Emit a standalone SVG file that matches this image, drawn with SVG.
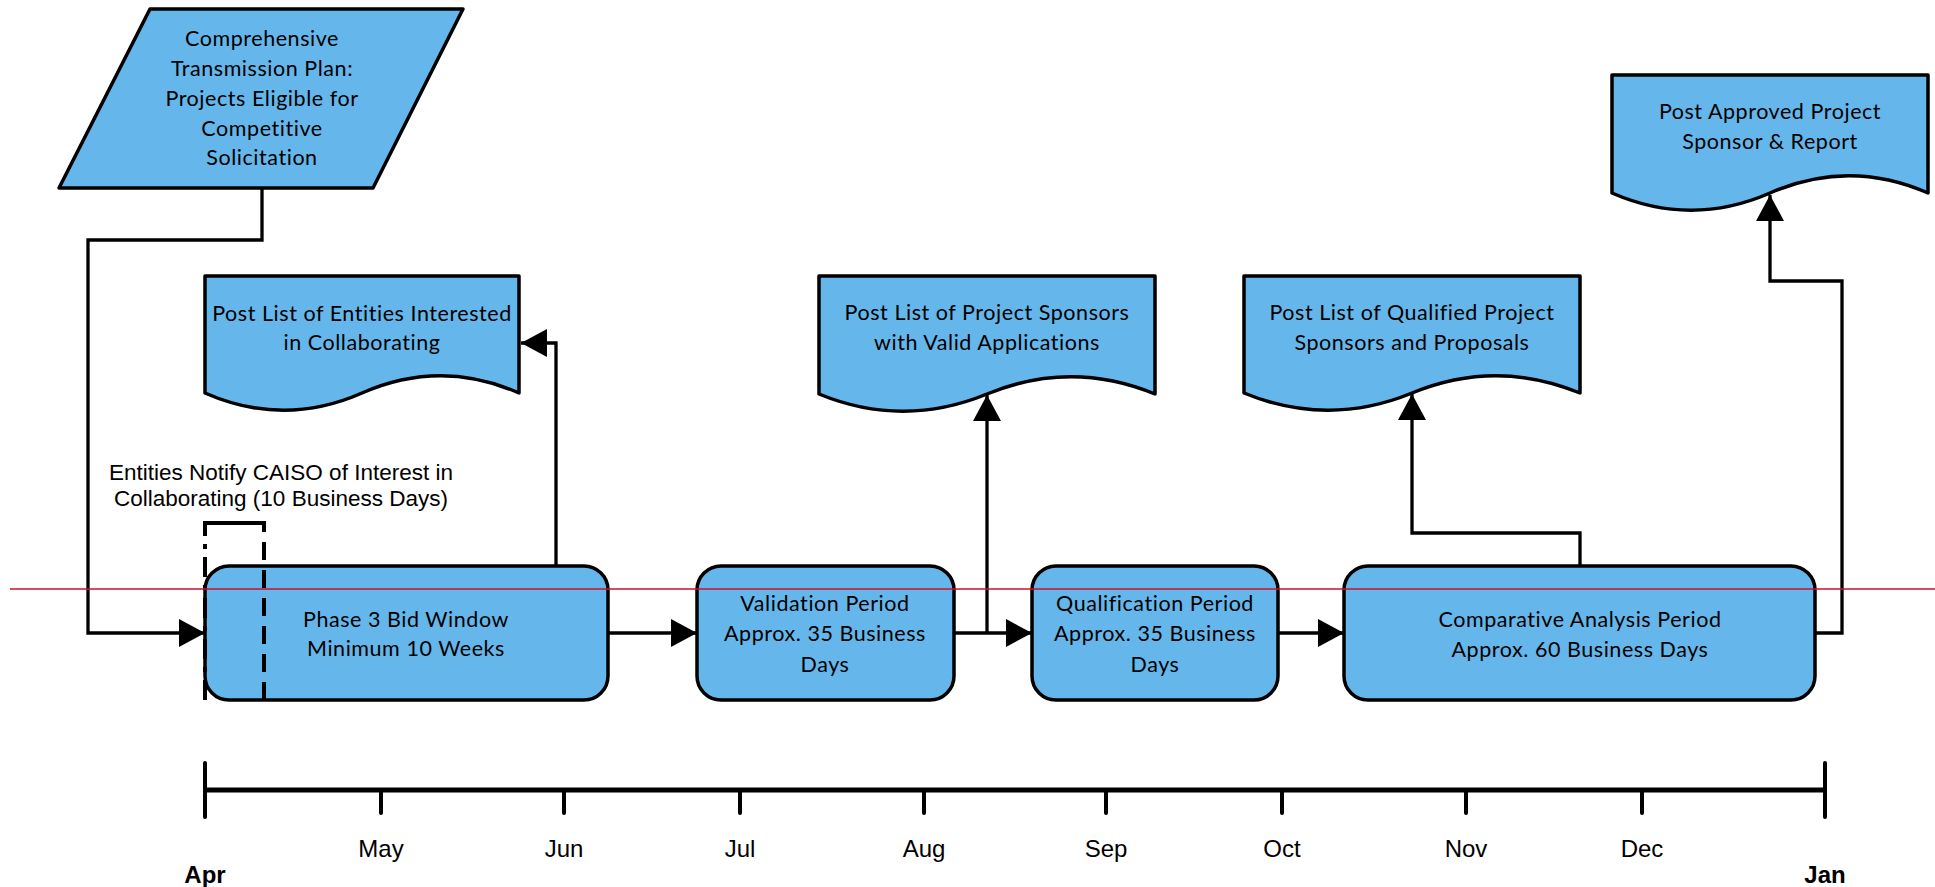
<svg xmlns="http://www.w3.org/2000/svg" width="1935" height="887" viewBox="0 0 1935 887">
<style>
.shape{fill:#65B7EB;stroke:#000;stroke-width:3.5;stroke-linejoin:round}
.t{font-family:Lato,"Open Sans",sans-serif;font-size:21.5px;fill:#000;text-anchor:middle;dominant-baseline:central;letter-spacing:0.55px}
.a{font-family:"Liberation Sans",Arial,sans-serif;font-size:22.5px;fill:#000;text-anchor:middle;dominant-baseline:central}
.m{font-family:"Liberation Sans",Arial,sans-serif;font-size:24px;fill:#000;text-anchor:middle;dominant-baseline:central}
.mb{font-family:"Liberation Sans",Arial,sans-serif;font-size:24px;font-weight:bold;fill:#000;text-anchor:middle;dominant-baseline:central}
.c{fill:none;stroke:#000;stroke-width:3.3}
.tk{stroke:#000;stroke-width:4;stroke-linecap:round}
</style>
<defs>
<marker id="arr" markerUnits="userSpaceOnUse" markerWidth="27" markerHeight="28" refX="26" refY="14" orient="auto">
<path d="M0,0 L26,14 L0,28 Z" fill="#000"/>
</marker>
</defs>

<g id="connectors">
<path class="c" d="M262,188 V240 H88 V633 H205" marker-end="url(#arr)"/>
<path class="c" d="M608,633 H697" marker-end="url(#arr)"/>
<path class="c" d="M954,633 H1032" marker-end="url(#arr)"/>
<path class="c" d="M987,633 V395" marker-end="url(#arr)"/>
<path class="c" d="M1278,633 H1344" marker-end="url(#arr)"/>
<path class="c" d="M556,566 V343 H521" marker-end="url(#arr)"/>
<path class="c" d="M1580,567 V533 H1412 V394" marker-end="url(#arr)"/>
<path class="c" d="M1815,633 H1842 V281 H1770 V195" marker-end="url(#arr)"/>
</g>

<g id="plan">
<polygon class="shape" points="150,9 463,9 373,188 59,188"/>
<text class="t" x="262" y="38">Comprehensive</text>
<text class="t" x="262" y="68">Transmission Plan:</text>
<text class="t" x="262" y="98">Projects Eligible for</text>
<text class="t" x="262" y="128">Competitive</text>
<text class="t" x="262" y="157">Solicitation</text>
</g>

<g id="doc-entities">
<path class="shape" d="M205,276 H519 V393 C466.7,370 414.3,370 362,393 C309.7,416 257.3,416 205,393 Z"/>
<text class="t" x="362" y="313">Post List of Entities Interested</text>
<text class="t" x="362" y="342">in Collaborating</text>
</g>

<g id="doc-sponsors">
<path class="shape" d="M819,276 H1155 V394 C1099,371 1043,371 987,394 C931,417 875,417 819,394 Z"/>
<text class="t" x="987" y="312">Post List of Project Sponsors</text>
<text class="t" x="987" y="342">with Valid Applications</text>
</g>

<g id="doc-qualified">
<path class="shape" d="M1244,276 H1580 V393 C1524,370 1468,370 1412,393 C1356,416 1300,416 1244,393 Z"/>
<text class="t" x="1412" y="312">Post List of Qualified Project</text>
<text class="t" x="1412" y="342">Sponsors and Proposals</text>
</g>

<g id="doc-approved">
<path class="shape" d="M1612,75 H1928 V193 C1875.3,170 1822.7,170 1770,193 C1717.3,216 1664.7,216 1612,193 Z"/>
<text class="t" x="1770" y="111">Post Approved Project</text>
<text class="t" x="1770" y="141">Sponsor &amp; Report</text>
</g>

<g id="notify-label">
<text class="a" x="281" y="472">Entities Notify CAISO of Interest in</text>
<text class="a" x="281" y="498">Collaborating (10 Business Days)</text>
</g>

<g id="phase3">
<rect class="shape" x="205" y="566" width="403" height="134" rx="24"/>
<text class="t" x="406" y="619">Phase 3 Bid Window</text>
<text class="t" x="406" y="648">Minimum 10 Weeks</text>
</g>

<g id="bracket">
<path d="M205,700 V523" fill="none" stroke="#000" stroke-width="4" stroke-dasharray="20 8 5 8"/>
<path d="M264,700 V523" fill="none" stroke="#000" stroke-width="4" stroke-dasharray="18 10"/>
<path d="M203,523 H266" fill="none" stroke="#000" stroke-width="4"/>
</g>

<g id="validation">
<rect class="shape" x="697" y="566" width="257" height="134" rx="24"/>
<text class="t" x="825" y="603">Validation Period</text>
<text class="t" x="825" y="633">Approx. 35 Business</text>
<text class="t" x="825" y="664">Days</text>
</g>

<g id="qualification">
<rect class="shape" x="1032" y="566" width="246" height="134" rx="24"/>
<text class="t" x="1155" y="603">Qualification Period</text>
<text class="t" x="1155" y="633">Approx. 35 Business</text>
<text class="t" x="1155" y="664">Days</text>
</g>

<g id="comparative">
<rect class="shape" x="1344" y="566" width="471" height="134" rx="24"/>
<text class="t" x="1580" y="619">Comparative Analysis Period</text>
<text class="t" x="1580" y="649">Approx. 60 Business Days</text>
</g>

<g id="timeline">
<line x1="205" y1="790" x2="1825" y2="790" stroke="#000" stroke-width="5"/>
<line class="tk" x1="205" y1="763" x2="205" y2="817" stroke-width="5"/>
<line class="tk" x1="1825" y1="763" x2="1825" y2="817" stroke-width="5"/>
<line class="tk" x1="381" y1="790" x2="381" y2="813"/>
<line class="tk" x1="564" y1="790" x2="564" y2="813"/>
<line class="tk" x1="740" y1="790" x2="740" y2="813"/>
<line class="tk" x1="924" y1="790" x2="924" y2="813"/>
<line class="tk" x1="1106" y1="790" x2="1106" y2="813"/>
<line class="tk" x1="1282" y1="790" x2="1282" y2="813"/>
<line class="tk" x1="1466" y1="790" x2="1466" y2="813"/>
<line class="tk" x1="1642" y1="790" x2="1642" y2="813"/>
<text class="mb" x="205" y="874">Apr</text>
<text class="m" x="381" y="848">May</text>
<text class="m" x="564" y="848">Jun</text>
<text class="m" x="740" y="848">Jul</text>
<text class="m" x="924" y="848">Aug</text>
<text class="m" x="1106" y="848">Sep</text>
<text class="m" x="1282" y="848">Oct</text>
<text class="m" x="1466" y="848">Nov</text>
<text class="m" x="1642" y="848">Dec</text>
<text class="mb" x="1825" y="874">Jan</text>
</g>

<line id="redline" x1="10" y1="589" x2="1935" y2="589" stroke="#C8102E" stroke-width="1.5"/>
</svg>
